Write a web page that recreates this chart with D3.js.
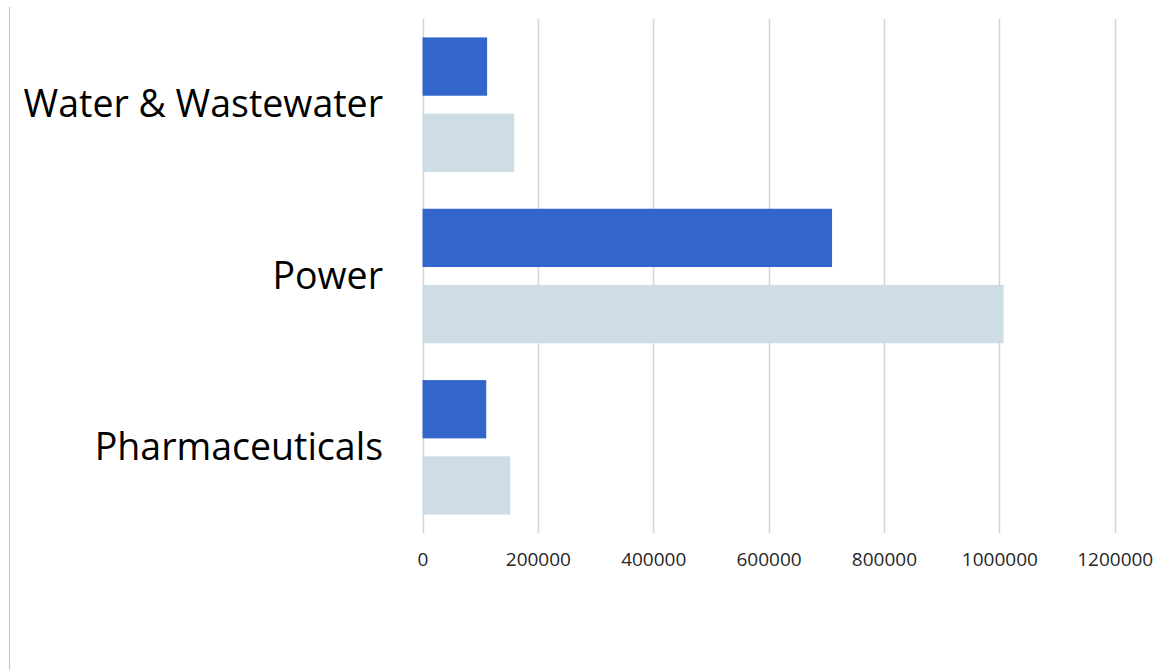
<!DOCTYPE html>
<html>
<head>
<meta charset="utf-8">
<script src="https://cdn.jsdelivr.net/npm/d3@7"></script>
<style>
  html, body { margin: 0; padding: 0; background: #ffffff; }
  svg { display: block; }
</style>
</head>
<body>
<svg id="chart" width="1154" height="670"></svg>
<script>
// Categories, top to bottom
const categories = ["Water & Wastewater", "Power", "Pharmaceuticals"];
// Two series per category
const seriesNames = ["Series 1", "Series 2"];
const series1 = [112000, 710000, 110500];
const series2 = [159000, 1007500, 152000];
// Axis ticks
const tickValues = [0, 200000, 400000, 600000, 800000, 1000000, 1200000];

const seriesValues = [series1, series2];
const seriesColors = ["#3366cc", "#cedde5"];

const W = 1154, H = 670;
const svg = d3.select("#chart");

const plot = { left: 422.5, right: 1114.7, top: 19, bottom: 533 };

const x = d3.scaleLinear()
  .domain([0, 1200000])
  .range([plot.left, plot.right]);

const y = d3.scaleBand()
  .domain(categories)
  .range([plot.top, plot.bottom])
  .paddingInner(0.215)
  .paddingOuter(0.1075);

const yInner = d3.scaleBand()
  .domain(seriesNames)
  .range([0, y.bandwidth()])
  .paddingInner(0.235)
  .paddingOuter(0);

// Outer left border line
svg.append("line")
  .attr("x1", 9.5).attr("x2", 9.5)
  .attr("y1", 7).attr("y2", H)
  .attr("stroke", "#c8c8c8")
  .attr("stroke-width", 1.2);

// Vertical gridlines
svg.append("g")
  .selectAll("line")
  .data(tickValues)
  .join("line")
  .attr("x1", d => Math.round(x(d)) + 0.5)
  .attr("x2", d => Math.round(x(d)) + 0.5)
  .attr("y1", plot.top)
  .attr("y2", plot.bottom)
  .attr("stroke", "#d4d4d4")
  .attr("stroke-width", 1.5);

// Bars
const rows = categories.map((c, i) => ({
  category: c,
  values: seriesNames.map((s, j) => ({ series: s, value: seriesValues[j][i], color: seriesColors[j] }))
}));

const groups = svg.append("g")
  .selectAll("g")
  .data(rows)
  .join("g")
  .attr("transform", d => `translate(0,${y(d.category)})`);

groups.selectAll("rect")
  .data(d => d.values)
  .join("rect")
  .attr("x", x(0))
  .attr("y", d => yInner(d.series))
  .attr("width", d => x(d.value) - x(0))
  .attr("height", yInner.bandwidth())
  .attr("fill", d => d.color);

// X axis labels (no domain line, no tick marks)
const xAxis = d3.axisBottom(x)
  .tickValues(tickValues)
  .tickFormat(d3.format("d"))
  .tickSize(0)
  .tickPadding(0);

const gx = svg.append("g")
  .attr("transform", `translate(0,${plot.bottom})`)
  .call(xAxis);
gx.select(".domain").remove();
gx.selectAll("text")
  .attr("dy", null)
  .attr("y", 33)
  .attr("font-family", "'Open Sans', sans-serif")
  .attr("font-size", 19)
  .attr("fill", "#262626");

// Category labels
const yAxis = d3.axisLeft(y).tickSize(0).tickPadding(0);
const gy = svg.append("g")
  .attr("transform", `translate(383,0)`)
  .call(yAxis);
gy.select(".domain").remove();
gy.selectAll("text")
  .attr("dy", null)
  .attr("y", 12.5)
  .attr("x", 0)
  .attr("text-anchor", "end")
  .attr("font-family", "'Open Sans', sans-serif")
  .attr("font-size", 37.5)
  .attr("fill", "#000000");
</script>
</body>
</html>
